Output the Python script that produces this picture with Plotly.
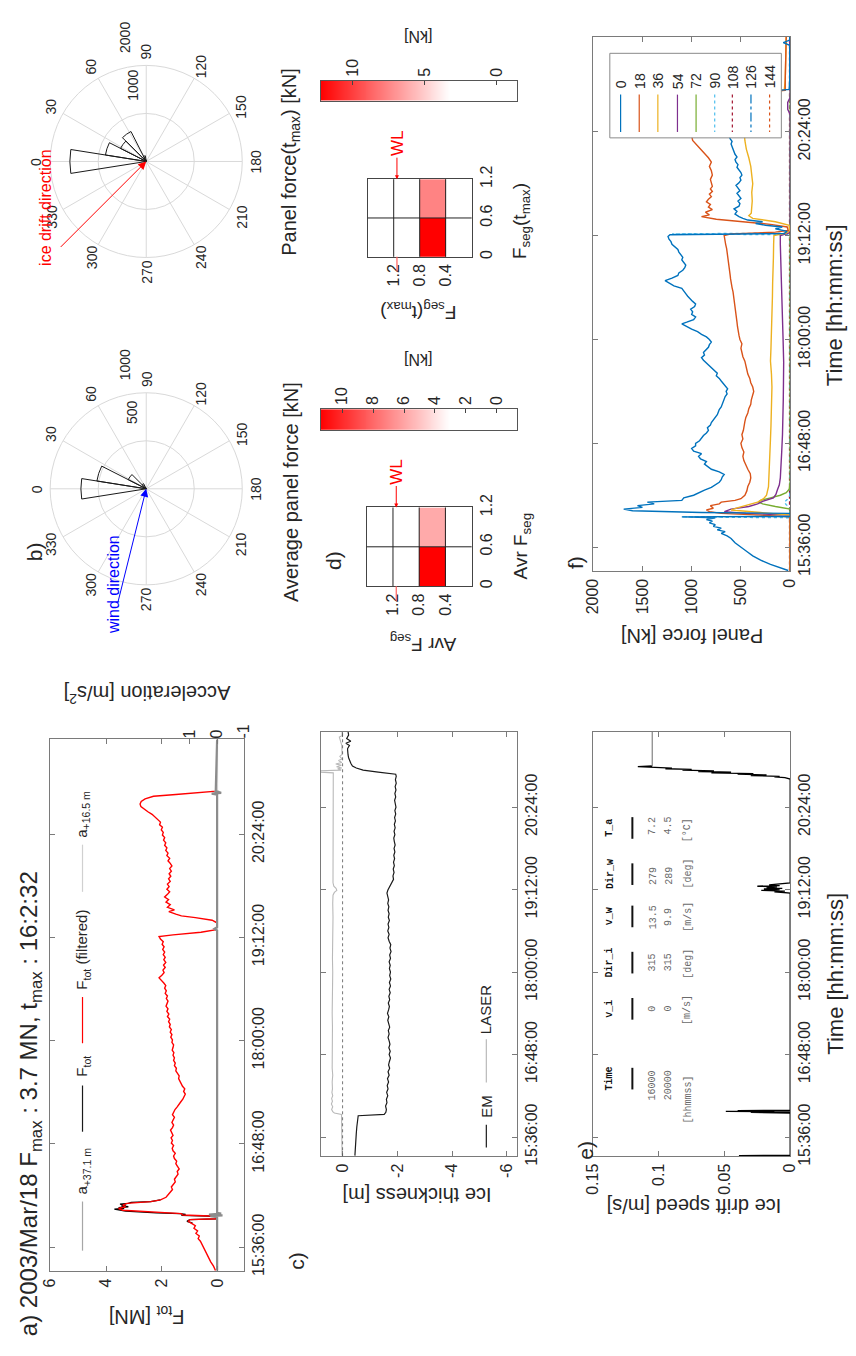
import math
import plotly.graph_objects as go

W, H = 856, 1356
FONT = "Liberation Sans, Arial, sans-serif"
MONO = "Liberation Mono, Courier New, monospace"
AXC = "#7a7a7a"
TXT = "#262626"
GRID = "#d9d9d9"

# ---------------- shared time axis (decimal hours) ----------------
TIME_TICKS = [15.6, 16.8, 18.0, 19.2, 20.4]
TIME_LABELS = ["15:36:00", "16:48:00", "18:00:00", "19:12:00", "20:24:00"]
TIME_RANGE = [15.32, 21.5]

# ---------------- a) total force [MN] and accelerations [m/s2] ----------------
DATE_STR = "2003/Mar/18"
TMAX_STR = "16:2:32"
FTOT_FILTERED = [
    (15.33, 0.08), (15.38, 0.15), (15.43, 0.25), (15.48, 0.33), (15.53, 0.40), (15.58, 0.47),
    (15.63, 0.55), (15.67, 0.62), (15.70, 0.70), (15.73, 0.66), (15.76, 0.78), (15.79, 0.72),
    (15.82, 0.85), (15.85, 0.80), (15.88, 0.95), (15.90, 1.05), (15.92, 1.00), (15.93, 0.05),
    (15.96, 0.05), (15.975, 1.25), (15.99, 1.30), (16.01, 2.60), (16.03, 3.40), (16.05, 3.55),
    (16.07, 3.30), (16.09, 3.40), (16.11, 3.25), (16.13, 2.40), (16.15, 2.05), (16.18, 1.85),
    (16.21, 1.78), (16.24, 1.70), (16.27, 1.62), (16.30, 1.66), (16.33, 1.58), (16.36, 1.52),
    (16.39, 1.55), (16.42, 1.47), (16.45, 1.42), (16.48, 1.45), (16.51, 1.38), (16.54, 1.44),
    (16.57, 1.50), (16.60, 1.47), (16.63, 1.55), (16.66, 1.58), (16.69, 1.52), (16.72, 1.60),
    (16.75, 1.63), (16.78, 1.58), (16.81, 1.66), (16.84, 1.62), (16.87, 1.67), (16.90, 1.60),
    (16.93, 1.64), (16.96, 1.69), (16.99, 1.62), (17.02, 1.58), (17.05, 1.64), (17.08, 1.60),
    (17.11, 1.55), (17.14, 1.62), (17.17, 1.58), (17.20, 1.53), (17.23, 1.45), (17.26, 1.40),
    (17.29, 1.32), (17.32, 1.25), (17.35, 1.20), (17.38, 1.16), (17.41, 1.22), (17.44, 1.18),
    (17.47, 1.26), (17.50, 1.30), (17.53, 1.36), (17.56, 1.40), (17.59, 1.38), (17.62, 1.45),
    (17.65, 1.50), (17.68, 1.48), (17.71, 1.55), (17.74, 1.52), (17.77, 1.58), (17.80, 1.55),
    (17.83, 1.60), (17.86, 1.57), (17.89, 1.63), (17.92, 1.60), (17.95, 1.58), (17.98, 1.64),
    (18.01, 1.62), (18.04, 1.68), (18.07, 1.64), (18.10, 1.70), (18.13, 1.66), (18.16, 1.73),
    (18.19, 1.70), (18.22, 1.76), (18.25, 1.72), (18.28, 1.80), (18.31, 1.75), (18.34, 1.82),
    (18.37, 1.78), (18.40, 1.85), (18.43, 1.80), (18.46, 1.78), (18.49, 1.84), (18.52, 1.80),
    (18.55, 1.88), (18.58, 1.84), (18.61, 1.90), (18.64, 1.86), (18.67, 1.93), (18.70, 2.02),
    (18.73, 2.10), (18.76, 2.00), (18.79, 1.92), (18.82, 1.96), (18.85, 1.88), (18.88, 1.94),
    (18.91, 1.86), (18.94, 1.93), (18.97, 1.88), (19.00, 1.95), (19.03, 1.90), (19.06, 1.97),
    (19.09, 1.92), (19.12, 1.99), (19.15, 1.95), (19.18, 2.05), (19.21, 2.10), (19.23, 1.60),
    (19.26, 0.60), (19.29, 0.05), (19.33, 0.02), (19.37, 0.03), (19.40, 0.20), (19.43, 0.80),
    (19.45, 1.30), (19.47, 1.50), (19.50, 1.75), (19.52, 1.55), (19.55, 1.80), (19.58, 1.70),
    (19.61, 1.85), (19.64, 1.76), (19.67, 1.90), (19.70, 1.80), (19.73, 1.72), (19.76, 1.82),
    (19.79, 1.74), (19.82, 1.80), (19.85, 1.70), (19.88, 1.76), (19.91, 1.68), (19.94, 1.74),
    (19.97, 1.66), (20.00, 1.72), (20.03, 1.64), (20.06, 1.70), (20.09, 1.78), (20.12, 1.72),
    (20.15, 1.82), (20.18, 1.78), (20.21, 1.86), (20.24, 1.82), (20.27, 1.90), (20.30, 1.86),
    (20.33, 1.94), (20.36, 1.90), (20.39, 1.98), (20.42, 1.95), (20.45, 2.02), (20.48, 1.98),
    (20.51, 2.08), (20.54, 2.05), (20.57, 2.15), (20.60, 2.22), (20.63, 2.35), (20.66, 2.50),
    (20.69, 2.65), (20.72, 2.75), (20.75, 2.78), (20.78, 2.74), (20.81, 2.60), (20.84, 2.30),
    (20.86, 1.50), (20.88, 0.60), (20.90, 0.05), (21.00, 0.02), (21.20, 0.02), (21.50, 0.02),
]
FTOT_RAW = [
    (15.88, 0.90), (15.90, 1.10), (15.92, 1.00), (15.93, 0.05), (15.96, 0.05), (15.97, 1.30),
    (15.98, 1.15), (15.99, 1.35), (16.00, 2.20), (16.01, 2.90), (16.02, 3.30), (16.03, 3.50),
    (16.042, 3.70), (16.05, 3.35), (16.06, 3.55), (16.07, 3.20), (16.08, 3.45), (16.09, 3.30),
    (16.10, 3.50), (16.11, 3.20), (16.12, 3.10), (16.13, 2.40), (16.15, 2.05),
]
ACC_37 = [
    (15.33, 0.0), (15.95, 0.0), (15.96, 0.25), (15.97, -0.20), (15.98, 0.30), (15.99, -0.15),
    (16.00, 0.0), (19.28, 0.0), (19.30, 0.10), (19.32, 0.0), (20.86, 0.0), (20.87, 0.20),
    (20.88, -0.15), (20.90, 0.05), (21.50, 0.0),
]
ACC_16 = [
    (15.33, 0.0), (15.96, 0.0), (15.97, 0.15), (15.98, -0.10), (15.99, 0.0), (20.87, 0.0),
    (20.88, 0.12), (20.89, -0.08), (20.90, 0.0), (21.50, 0.0),
]

# ---------------- c) ice thickness [m] ----------------
ICE_EM = [
    (15.33, -0.45), (15.45, -0.46), (15.55, -0.48), (15.65, -0.50), (15.75, -0.52), (15.85, -0.54),
    (15.91, -0.57), (15.93, -1.52), (15.96, -1.58), (16.00, -1.60), (16.05, -1.57), (16.10, -1.62),
    (16.15, -1.60), (16.20, -1.65), (16.25, -1.61), (16.30, -1.66), (16.35, -1.63), (16.40, -1.68),
    (16.45, -1.64), (16.50, -1.70), (16.55, -1.66), (16.60, -1.72), (16.65, -1.68), (16.70, -1.71),
    (16.75, -1.75), (16.80, -1.70), (16.85, -1.74), (16.90, -1.69), (16.95, -1.73), (17.00, -1.70),
    (17.05, -1.66), (17.10, -1.70), (17.15, -1.67), (17.20, -1.72), (17.25, -1.68), (17.30, -1.65),
    (17.35, -1.69), (17.40, -1.64), (17.45, -1.68), (17.50, -1.71), (17.55, -1.67), (17.60, -1.72),
    (17.65, -1.69), (17.70, -1.74), (17.75, -1.70), (17.80, -1.75), (17.85, -1.71), (17.90, -1.76),
    (17.95, -1.72), (18.00, -1.75), (18.05, -1.71), (18.10, -1.74), (18.15, -1.70), (18.20, -1.75),
    (18.25, -1.72), (18.30, -1.77), (18.35, -1.73), (18.40, -1.76), (18.45, -1.70), (18.50, -1.66),
    (18.55, -1.70), (18.60, -1.65), (18.65, -1.69), (18.70, -1.66), (18.75, -1.71), (18.80, -1.67),
    (18.85, -1.70), (18.90, -1.66), (18.95, -1.69), (19.00, -1.65), (19.05, -1.68), (19.10, -1.64),
    (19.15, -1.62), (19.20, -1.66), (19.25, -1.72), (19.30, -1.80), (19.35, -1.86), (19.40, -1.84),
    (19.45, -1.88), (19.50, -1.85), (19.55, -1.89), (19.60, -1.86), (19.65, -1.90), (19.70, -1.87),
    (19.75, -1.91), (19.80, -1.88), (19.85, -1.92), (19.90, -1.89), (19.95, -1.87), (20.00, -1.91),
    (20.05, -1.88), (20.10, -1.92), (20.15, -1.89), (20.20, -1.93), (20.25, -1.90), (20.30, -1.94),
    (20.35, -1.91), (20.40, -1.95), (20.45, -1.92), (20.50, -1.90), (20.55, -1.94), (20.60, -1.91),
    (20.65, -1.95), (20.70, -1.92), (20.75, -1.96), (20.80, -1.93), (20.85, -1.96), (20.88, -1.94),
    (20.91, -1.30), (20.94, -0.75), (20.97, -0.50), (21.00, -0.36), (21.04, -0.30), (21.08, -0.25),
    (21.12, -0.22), (21.16, -0.20), (21.20, -0.19), (21.25, -0.18), (21.30, -0.25), (21.33, -0.12),
    (21.36, -0.30), (21.40, -0.15), (21.45, -0.22), (21.50, -0.20),
]
ICE_LASER = [
    (15.33, 0.02), (15.60, 0.03), (15.90, 0.02), (15.93, 0.04), (15.95, 0.30), (15.97, 0.36),
    (16.00, 0.40), (16.04, 0.36), (16.08, 0.41), (16.12, 0.37), (16.16, 0.40), (16.20, 0.36),
    (16.25, 0.39), (16.30, 0.37), (16.40, 0.38), (16.50, 0.36), (16.60, 0.38), (16.80, 0.37),
    (17.00, 0.38), (17.20, 0.37), (17.40, 0.38), (17.60, 0.37), (17.80, 0.37), (18.00, 0.36),
    (18.20, 0.37), (18.40, 0.36), (18.60, 0.36), (18.80, 0.35), (19.00, 0.36), (19.12, 0.35),
    (19.16, 0.30), (19.19, 0.21), (19.22, 0.24), (19.25, 0.32), (19.30, 0.35), (19.50, 0.35),
    (19.80, 0.34), (20.10, 0.35), (20.40, 0.34), (20.70, 0.35), (20.90, 0.34), (20.91, 0.80),
    (20.93, 0.80), (20.94, 0.05), (20.96, 0.18), (20.97, 0.03), (20.99, 0.22), (21.01, 0.04),
    (21.03, 0.25), (21.05, 0.03), (21.08, 0.15), (21.10, 0.02), (21.14, 0.10), (21.17, 0.02),
    (21.30, 0.03), (21.42, 0.12), (21.44, 0.02), (21.50, 0.02),
]

# ---------------- e) ice drift speed [m/s] ----------------
DRIFT = [
    (15.33, 0.039), (15.335, 0.0), (15.95, 0.0), (15.96, 0.030), (15.965, 0.0), (15.975, 0.049),
    (15.98, 0.012), (15.985, 0.040), (15.99, 0.0), (19.15, 0.0), (19.17, 0.012), (19.18, 0.004),
    (19.19, 0.022), (19.20, 0.008), (19.21, 0.020), (19.22, 0.006), (19.23, 0.018), (19.24, 0.010),
    (19.25, 0.025), (19.26, 0.008), (19.27, 0.016), (19.29, 0.004), (19.30, 0.0), (20.81, 0.0),
    (20.83, 0.004), (20.84, 0.012), (20.85, 0.008), (20.86, 0.030), (20.87, 0.018), (20.88, 0.040),
    (20.89, 0.028), (20.90, 0.060), (20.91, 0.045), (20.92, 0.070), (20.93, 0.058), (20.94, 0.082),
    (20.95, 0.075), (20.96, 0.095), (20.97, 0.090), (20.99, 0.116), (21.00, 0.105),
]
DRIFT_HOLD = [(21.00, 0.105), (21.50, 0.105)]

TABLE_HEAD = ["Time", "v_i", "Dir_i", "v_w", "Dir_w", "T_a"]
TABLE_ROW1 = ["16000", "0", "315", "13.5", "279", "7.2"]
TABLE_ROW2 = ["20000", "0", "315", "9.9", "289", "4.5"]
TABLE_UNIT = ["[hhmmss]", "[m/s]", "[deg]", "[m/s]", "[deg]", "[°C]"]

# ---------------- f) panel forces [kN], one series per panel angle ----------------
PANEL_ANGLES = ["0", "18", "36", "54", "72", "90", "108", "126", "144"]
P0 = [
    (15.33, 20), (15.36, 100), (15.40, 200), (15.45, 300), (15.50, 380), (15.55, 440), (15.60, 500),
    (15.65, 560), (15.70, 600), (15.73, 640), (15.76, 700), (15.78, 660), (15.80, 740), (15.82, 700),
    (15.84, 780), (15.86, 760), (15.88, 820), (15.90, 790), (15.92, 850), (15.94, 760), (15.95, 1100),
    (15.955, 0), (15.99, 0), (16.00, 900), (16.02, 1600), (16.04, 1690), (16.06, 1500), (16.08, 1550),
    (16.10, 1380), (16.12, 1450), (16.14, 1100), (16.17, 1080), (16.20, 980), (16.23, 930),
    (16.26, 870), (16.29, 800), (16.32, 760), (16.35, 720), (16.38, 700), (16.41, 690), (16.44, 670),
    (16.47, 720), (16.50, 800), (16.53, 830), (16.56, 870), (16.59, 850), (16.62, 910), (16.65, 930),
    (16.68, 900), (16.71, 980), (16.74, 1000), (16.77, 960), (16.80, 960), (16.83, 920), (16.86, 900),
    (16.89, 880), (16.92, 850), (16.95, 830), (16.98, 840), (17.01, 810), (17.04, 800), (17.07, 780),
    (17.10, 760), (17.13, 740), (17.16, 730), (17.19, 720), (17.22, 700), (17.25, 690), (17.28, 680),
    (17.31, 670), (17.34, 660), (17.37, 640), (17.40, 650), (17.43, 635), (17.46, 660), (17.49, 680),
    (17.52, 700), (17.55, 720), (17.58, 750), (17.61, 740), (17.64, 770), (17.67, 800), (17.70, 820),
    (17.73, 850), (17.76, 880), (17.79, 900), (17.82, 870), (17.85, 880), (17.88, 850), (17.91, 830),
    (17.94, 820), (17.97, 800), (18.00, 820), (18.03, 850), (18.06, 900), (18.09, 940), (18.12, 1000),
    (18.15, 1050), (18.18, 1100), (18.20, 1050), (18.23, 980), (18.26, 960), (18.29, 1000),
    (18.32, 990), (18.35, 1010), (18.38, 970), (18.41, 960), (18.44, 990), (18.47, 1020),
    (18.50, 1040), (18.53, 1060), (18.56, 1080), (18.59, 1100), (18.62, 1180), (18.65, 1230),
    (18.68, 1270), (18.71, 1200), (18.74, 1140), (18.77, 1130), (18.80, 1090), (18.83, 1070),
    (18.86, 1060), (18.89, 1080), (18.92, 1100), (18.95, 1090), (18.98, 1110), (19.01, 1130),
    (19.04, 1140), (19.07, 1170), (19.10, 1200), (19.13, 1210), (19.16, 1230), (19.19, 1240),
    (19.21, 1220), (19.225, 60), (19.25, 30), (19.28, 150), (19.30, 80), (19.32, 250), (19.34, 350),
    (19.36, 280), (19.38, 430), (19.40, 480), (19.42, 520), (19.45, 560), (19.48, 540), (19.51, 570),
    (19.54, 520), (19.57, 510), (19.60, 530), (19.63, 500), (19.66, 520), (19.69, 540), (19.72, 510),
    (19.75, 530), (19.78, 550), (19.81, 520), (19.84, 500), (19.87, 510), (19.90, 490), (19.93, 500),
    (19.96, 520), (19.99, 540), (20.02, 530), (20.05, 550), (20.08, 560), (20.11, 540), (20.14, 560),
    (20.17, 570), (20.20, 580), (20.23, 590), (20.26, 600), (20.29, 590), (20.32, 610), (20.35, 620),
    (20.40, 630), (20.50, 650), (20.60, 680), (20.70, 720), (20.80, 700), (20.84, 650), (20.87, 200),
    (20.89, 10), (21.00, 5), (21.40, 5), (21.43, 70), (21.46, 5), (21.50, 5),
]
P18 = [
    (15.33, 0), (15.95, 0), (15.97, 300), (15.99, 700), (16.01, 820), (16.03, 850), (16.05, 780),
    (16.08, 810), (16.10, 720), (16.12, 700), (16.14, 560), (16.16, 500), (16.20, 460), (16.25, 440),
    (16.30, 430), (16.35, 410), (16.40, 400), (16.45, 405), (16.50, 430), (16.55, 450), (16.60, 470),
    (16.65, 480), (16.70, 470), (16.75, 490), (16.80, 500), (16.85, 480), (16.90, 490), (16.95, 475),
    (17.00, 470), (17.05, 460), (17.10, 450), (17.15, 430), (17.20, 420), (17.25, 400), (17.30, 395),
    (17.35, 380), (17.40, 370), (17.45, 380), (17.50, 400), (17.55, 410), (17.60, 430), (17.65, 440),
    (17.70, 450), (17.75, 460), (17.80, 480), (17.85, 490), (17.90, 500), (17.95, 490), (18.00, 510),
    (18.05, 520), (18.10, 530), (18.15, 535), (18.20, 540), (18.25, 545), (18.30, 550), (18.35, 555),
    (18.40, 560), (18.45, 565), (18.50, 570), (18.55, 580), (18.60, 590), (18.65, 600), (18.70, 605),
    (18.75, 610), (18.80, 615), (18.85, 620), (18.90, 625), (18.95, 635), (19.00, 640), (19.05, 645),
    (19.10, 655), (19.15, 660), (19.20, 670), (19.22, 600), (19.24, 150), (19.26, 20), (19.30, 30),
    (19.33, 200), (19.36, 500), (19.39, 750), (19.42, 900), (19.44, 820), (19.47, 860), (19.50, 790),
    (19.53, 830), (19.56, 810), (19.59, 850), (19.62, 830), (19.65, 800), (19.68, 820), (19.71, 790),
    (19.74, 810), (19.77, 790), (19.80, 800), (19.85, 810), (19.90, 790), (19.95, 800), (20.00, 820),
    (20.05, 800), (20.10, 830), (20.15, 870), (20.20, 910), (20.25, 960), (20.30, 990), (20.35, 1000),
    (20.45, 1020), (20.60, 1050), (20.75, 1060), (20.83, 1000), (20.86, 300), (20.88, 50),
    (21.00, 50), (21.50, 40),
]
P36 = [
    (15.33, 0), (15.97, 0), (16.00, 300), (16.03, 600), (16.06, 520), (16.09, 420), (16.12, 330),
    (16.16, 270), (16.20, 240), (16.30, 220), (16.40, 215), (16.55, 210), (16.70, 205), (16.85, 200),
    (17.00, 195), (17.15, 192), (17.30, 188), (17.45, 185), (17.60, 190), (17.75, 200), (17.90, 195),
    (18.05, 190), (18.20, 188), (18.35, 185), (18.50, 180), (18.65, 178), (18.80, 172), (18.95, 170),
    (19.10, 168), (19.20, 165), (19.23, 40), (19.26, 5), (19.32, 10), (19.36, 150), (19.40, 380),
    (19.43, 420), (19.46, 395), (19.50, 390), (19.60, 385), (19.70, 390), (19.80, 380), (19.90, 390),
    (20.00, 400), (20.10, 420), (20.20, 445), (20.30, 460), (20.45, 470), (20.60, 480), (20.80, 470),
    (20.85, 200), (20.88, 60), (21.00, 50), (21.50, 40),
]
P54 = [
    (15.33, 0), (15.97, 0), (15.99, 450), (16.01, 668), (16.04, 600), (16.07, 420), (16.10, 330),
    (16.13, 280), (16.17, 170), (16.21, 145), (16.26, 130), (16.32, 110), (16.40, 100), (16.55, 90),
    (16.70, 86), (16.90, 78), (17.10, 72), (17.30, 70), (17.50, 68), (17.74, 66), (18.00, 72),
    (18.34, 83), (18.70, 90), (19.10, 100), (19.20, 100), (19.23, 10), (19.26, 0), (20.60, 0),
    (20.66, 25), (20.74, 25), (20.80, 0), (21.50, 5),
]
P72 = [
    (15.33, 0), (16.04, 0), (16.07, 150), (16.10, 280), (16.12, 320), (16.14, 300), (16.17, 200),
    (16.20, 100), (16.23, 40), (16.27, 10), (16.35, 0), (21.50, 0),
]
P90 = [
    (15.33, 0), (15.94, 0), (15.95, 1100), (15.955, 0), (16.06, 0), (16.09, 40), (16.12, 60),
    (16.15, 30), (16.20, 0), (19.21, 0), (19.22, 1200), (19.23, 0), (21.50, 0),
]
P108 = [(15.33, 6), (21.50, 6)]
P126 = [(15.33, 2), (21.50, 2)]
P144 = [(15.33, 4), (21.50, 4)]

# ---------------- b) rose diagrams (panel angle, force in kN) ----------------
ROSE_ANGLES = [0, 18, 36, 54, 72, 90, 108, 126, 144]
ROSE_AVG = [680, 520, 210, 60, 10, 0, 0, 0, 0]
ROSE_TMAX = [1590, 860, 600, 700, 120, 30, 0, 0, 0]

# ---------------- d) segment forces [kN] (rows: width bins, columns: height bins) ----------------
SEG_HEIGHT = [1.4, 1.0, 0.6, 0.2]
SEG_WIDTH = [0.3, 0.9]
SEG_HEIGHT_EDGES = [1.2, 0.8, 0.4]
SEG_WIDTH_EDGES = [0.6]
AVR_FSEG = [[0.0, 0.1, 11.4, 0.2], [-1.3, 0.0, 5.8, 0.1]]
TMAX_FSEG = [[0.0, 0.2, 12.2, 0.3], [-1.4, 0.1, 7.6, 0.0]]
WATER_LEVEL = 1.15

SERIES_STYLE = [
    ("#0072BD", "solid"), ("#D95319", "solid"), ("#EDB120", "solid"), ("#7E2F8E", "solid"),
    ("#77AC30", "solid"), ("#4DBEEE", "dot"), ("#A2142F", "dot"), ("#0072BD", "dashdot"),
    ("#D95319", "dot"),
]
PANEL_SERIES = [P0, P18, P36, P54, P72, P90, P108, P126, P144]
SEG_SCALE = [[0.0, "#ffffff"], [0.34, "#ffffff"], [1.0, "#ff0000"]]


def px(x):
    return x / W


def py(y):
    return 1 - y / H


def cols(pairs):
    t, v = zip(*pairs)
    return list(t), list(v)


ann = []
shp = []


def label(x, y, s, angle=-90, size=16, color=TXT, xa="center", ya="middle", family=FONT):
    ann.append(dict(xref="paper", yref="paper", x=px(x), y=py(y), text=s, textangle=angle,
                    showarrow=False, xanchor=xa, yanchor=ya,
                    font=dict(family=family, size=size, color=color)))


def pline(x0, y0, x1, y1, color, width=1.2, dash="solid"):
    shp.append(dict(type="line", xref="paper", yref="paper", x0=px(x0), y0=py(y0),
                    x1=px(x1), y1=py(y1), line=dict(color=color, width=width, dash=dash)))


def time_axis(y0, y1, anchor):
    return dict(domain=[py(y1), py(y0)], anchor=anchor, range=TIME_RANGE,
                tickmode="array", tickvals=TIME_TICKS, ticktext=TIME_LABELS,
                side="right", tickangle=-90, ticks="inside", ticklen=5, tickcolor=AXC,
                showline=True, linecolor=AXC, mirror="ticks", showgrid=False, zeroline=False,
                tickfont=dict(family=FONT, size=16, color=TXT))


def value_axis(x0, x1, anchor, rng, vals, text):
    return dict(domain=[px(x0), px(x1)], anchor=anchor, range=rng,
                tickmode="array", tickvals=vals, ticktext=text,
                side="bottom", tickangle=-90, ticks="inside", ticklen=5, tickcolor=AXC,
                showline=True, linecolor=AXC, mirror="ticks", showgrid=False, zeroline=False,
                tickfont=dict(family=FONT, size=16, color=TXT))


fig = go.Figure()

# ---- a) accelerations (secondary axis) and total force
for pairs, color, width in [(ACC_16, "#cfcfcf", 2.0), (ACC_37, "#8c8c8c", 2.2)]:
    t, v = cols(pairs)
    fig.add_trace(go.Scatter(x=v, y=t, mode="lines", line=dict(color=color, width=width),
                             xaxis="x2", yaxis="y", showlegend=False))
t, v = cols(FTOT_RAW)
fig.add_trace(go.Scatter(x=v, y=t, mode="lines", line=dict(color="black", width=1.3),
                         xaxis="x", yaxis="y", showlegend=False))
t, v = cols(FTOT_FILTERED)
fig.add_trace(go.Scatter(x=v, y=t, mode="lines", line=dict(color="#ff0000", width=1.4),
                         xaxis="x", yaxis="y", showlegend=False))

# ---- c) ice thickness
t, v = cols(ICE_LASER)
fig.add_trace(go.Scatter(x=v, y=t, mode="lines", line=dict(color="#b9b9b9", width=1.1),
                         xaxis="x3", yaxis="y3", showlegend=False))
t, v = cols(ICE_EM)
fig.add_trace(go.Scatter(x=v, y=t, mode="lines", line=dict(color="#1a1a1a", width=1.2),
                         xaxis="x3", yaxis="y3", showlegend=False))
shp.append(dict(type="line", xref="x3", yref="y3 domain", x0=0, x1=0, y0=0, y1=1,
                line=dict(color="#555555", width=0.8, dash="3px,3px")))

# ---- e) ice drift speed
t, v = cols(DRIFT)
fig.add_trace(go.Scatter(x=v, y=t, mode="lines", line=dict(color="black", width=1.3),
                         xaxis="x4", yaxis="y4", showlegend=False))
t, v = cols(DRIFT_HOLD)
fig.add_trace(go.Scatter(x=v, y=t, mode="lines", line=dict(color="#8c8c8c", width=1.3),
                         xaxis="x4", yaxis="y4", showlegend=False))

# ---- f) panel forces
for pairs, (color, dash) in reversed(list(zip(PANEL_SERIES, SERIES_STYLE))):
    t, v = cols(pairs)
    fig.add_trace(go.Scatter(x=v, y=t, mode="lines", line=dict(color=color, width=1.4, dash=dash),
                             xaxis="x5", yaxis="y5", showlegend=False))

# ---- d) segment force maps with their colour strips
for z, xa, ya, cxa, cya in [(AVR_FSEG, "x6", "y6", "x8", "y8"), (TMAX_FSEG, "x7", "y7", "x9", "y9")]:
    zmin = min(min(r) for r in z)
    zmax = max(max(r) for r in z)
    fig.add_trace(go.Heatmap(x=SEG_HEIGHT, y=SEG_WIDTH, z=z, colorscale=SEG_SCALE, zmin=zmin,
                             zmax=zmax, showscale=False, xaxis=xa, yaxis=ya))
    ramp = [zmin + (zmax - zmin) * i / 199 for i in range(200)]
    fig.add_trace(go.Heatmap(x=ramp, y=[0.5], z=[ramp], colorscale=SEG_SCALE, zmin=zmin,
                             zmax=zmax, showscale=False, xaxis=cxa, yaxis=cya))
    for e in SEG_HEIGHT_EDGES:
        shp.append(dict(type="line", xref=xa, yref=ya + " domain", x0=e, x1=e, y0=0, y1=1,
                        line=dict(color="#222222", width=1)))
    for e in SEG_WIDTH_EDGES:
        shp.append(dict(type="line", xref=xa + " domain", yref=ya, x0=0, x1=1, y0=e, y1=e,
                        line=dict(color="#222222", width=1)))
    # water level marker: arrow above the map and a short tick below it
    ann.append(dict(xref=xa, yref=ya, x=WATER_LEVEL, y=1.2, text="WL", textangle=-90,
                    showarrow=True, arrowhead=2, arrowsize=0.8, arrowwidth=1, arrowcolor="#ff0000",
                    ax=0, ay=-36, font=dict(family=FONT, size=17, color="#ff0000")))
    shp.append(dict(type="line", xref=xa, yref=ya + " domain", x0=WATER_LEVEL, x1=WATER_LEVEL,
                    y0=0, y1=-0.19, line=dict(color="#ff6060", width=1.2)))

# ---- b) rose diagrams
POLAR_C = {"polar": (140, 150), "polar2": (140, 483)}
POLAR_R = 98
for name, rose in [("polar", ROSE_TMAX), ("polar2", ROSE_AVG)]:
    fig.add_trace(go.Barpolar(r=rose, theta=ROSE_ANGLES, width=18, subplot=name,
                              marker=dict(color="rgba(255,255,255,0)",
                                          line=dict(color="#1a1a1a", width=1)),
                              showlegend=False))


def polar_layout(cy, rmax, rticks):
    return dict(
        domain=dict(x=[px(140 - POLAR_R), px(140 + POLAR_R)], y=[py(cy + POLAR_R), py(cy - POLAR_R)]),
        bgcolor="white",
        angularaxis=dict(rotation=180, direction="clockwise", tickmode="linear", tick0=0, dtick=30,
                         showgrid=True, gridcolor=GRID, gridwidth=1, showline=True, linecolor=GRID,
                         showticklabels=False, ticks=""),
        radialaxis=dict(range=[0, rmax], tickmode="array", tickvals=rticks, showgrid=True,
                        gridcolor=GRID, showline=False, showticklabels=False, ticks=""),
    )


POLAR_TICKS = {"polar": [1000, 2000], "polar2": [500, 1000]}
for name in ("polar", "polar2"):
    cx, cy = POLAR_C[name]
    for a in range(0, 360, 30):
        th = math.radians(a)
        label(cx - 112 * math.cos(th), cy - 112 * math.sin(th), str(a), size=14)
    rmax = POLAR_TICKS[name][-1]
    th = math.radians(80)
    for r in POLAR_TICKS[name]:
        d = r / rmax * POLAR_R + 30
        label(cx - d * math.cos(th), cy - d * math.sin(th), str(r), size=14)

# direction arrows (mean of the two table rows)
wind_dir = (float(TABLE_ROW1[4]) + float(TABLE_ROW2[4])) / 2
ice_dir = (float(TABLE_ROW1[2]) + float(TABLE_ROW2[2])) / 2
for name, ang, length, color in [("polar2", wind_dir, 118, "#0000ff"), ("polar", ice_dir, 123, "#ff0000")]:
    cx, cy = POLAR_C[name]
    th = math.radians(ang)
    ann.append(dict(xref="paper", yref="paper", x=px(cx), y=py(cy), text="",
                    showarrow=True, arrowhead=2, arrowsize=1.6, arrowwidth=1, arrowcolor=color,
                    axref="pixel", ayref="pixel", ax=-length * math.cos(th), ay=-length * math.sin(th)))
label(106, 580, "wind direction", size=16, color="#0000ff")
label(37, 197, "ice drift direction", size=16, color="#ff0000")
label(287, 150, "Panel force(t<sub>max</sub>) [kN]", size=20)
label(287, 486, "Average panel force [kN]", size=20)

# ---- titles, axis labels and panel letters
fmax = max(v for _, v in FTOT_RAW)
label(22, 1347, f"a) {DATE_STR} F<sub>max</sub> : {fmax:.1f} MN, t<sub>max</sub> : {TMAX_STR}",
      size=24, ya="bottom")
label(140, 1324, "F<sub>tot</sub> [MN]", angle=180, size=20)
label(141, 693, "Acceleration [m/s<sup>2</sup>]", angle=180, size=20)
label(416, 1202, "Ice thickness [m]", angle=180, size=20)
label(699, 1212, "Ice drift speed [m/s]", angle=180, size=20)
label(697, 632, "Panel force [kN]", angle=180, size=20)
label(843, 976, "Time [hh:mm:ss]", size=22)
label(843, 296, "Time [hh:mm:ss]", size=22)
label(26, 547, "b)", size=21)
label(293, 1268, "c)", size=21)
label(331, 556, "d)", size=21)
label(588, 1156, "e)", size=21)
label(578, 558, "f)", size=21)

# d) map labels
label(422, 640, "Avr F<sub>seg</sub>", angle=180, size=19)
label(523, 541, "Avr F<sub>seg</sub>", size=19)
label(418, 302, "F<sub>seg</sub>(t<sub>max</sub>)", angle=180, size=19)
label(523, 211, "F<sub>seg</sub>(t<sub>max</sub>)", size=19)
label(418, 352, "[kN]", angle=180, size=16)
label(418, 23, "[kN]", angle=180, size=16)

# ---- legend of a)
label(75, 1203, "a<sub>+37.1 m</sub>", size=15, ya="bottom")
pline(75, 1208, 75, 1258, "#a6a6a6")
label(75, 1083, "F<sub>tot</sub>", size=15, ya="bottom")
pline(75, 1090, 75, 1137, "#1a1a1a")
label(75, 995, "F<sub>tot</sub> (filtered)", size=15, ya="bottom")
pline(75, 1000, 75, 1047, "#ff0000")
label(75, 840, "a<sub>+16.5 m</sub>", size=15, ya="bottom")
pline(75, 845, 75, 893, "#d0d0d0")

# ---- legend of c)
pline(487, 1130, 487, 1153, "#1a1a1a")
label(487, 1125, "EM", size=15, ya="bottom")
pline(487, 1043, 487, 1087, "#b9b9b9")
label(487, 1040, "LASER", size=15, ya="bottom")

# ---- table of e)
HEAD_Y = [1083, 1012, 965, 918, 875, 828]
ROW_Y = [1090, 1012, 965, 919, 877, 826]
UNIT_Y = [1104, 1013, 966, 918, 874, 830]
for i in range(len(TABLE_HEAD)):
    label(613, HEAD_Y[i], f"<b>{TABLE_HEAD[i]}</b>", size=10, family=MONO, color="#111111")
    pline(636, HEAD_Y[i] - 11, 636, HEAD_Y[i] + 11, "#111111", width=2)
    label(657, ROW_Y[i], TABLE_ROW1[i], size=10, family=MONO, color="#6a6a6a")
    label(673, ROW_Y[i], TABLE_ROW2[i], size=10, family=MONO, color="#6a6a6a")
    label(693, UNIT_Y[i], TABLE_UNIT[i], size=10, family=MONO, color="#6a6a6a")

# ---- legend of f)
shp.append(dict(type="rect", xref="paper", yref="paper", x0=px(613), x1=px(788), y0=py(126), y1=py(40),
                line=dict(color="#8a8a8a", width=1), fillcolor="white", layer="above"))
LEG_X = [624, 643, 662, 682, 701, 720, 738, 757, 776]
for lx, name, (color, dash) in zip(LEG_X, PANEL_ANGLES, SERIES_STYLE):
    pline(lx, 82, lx, 120, color, width=1.2, dash=dash)
    label(lx, 78, name, size=14, ya="bottom")

layout_axes = dict(
    xaxis=value_axis(42, 240, "y", [6, -0.95], [0, 2, 4, 6], ["0", "2", "4", "6"]),
    yaxis=time_axis(738, 1279, "x"),
    xaxis2=dict(overlaying="x", anchor="y", side="top", range=[6.15, -1], tickmode="array",
                tickvals=[-1, 0, 1], ticktext=["-1", "0", "1"], tickangle=-90, ticks="inside",
                ticklen=5, tickcolor=AXC, showline=False, showgrid=False, zeroline=False,
                tickfont=dict(family=FONT, size=16, color=TXT)),
    xaxis3=value_axis(318, 518, "y3", [0.8, -6.36], [0, -2, -4, -6], ["0", "-2", "-4", "-6"]),
    yaxis3=time_axis(730, 1162, "x3"),
    xaxis4=value_axis(596, 797, "y4", [0.15, 0], [0, 0.05, 0.1, 0.15], ["0", "0.05", "0.1", "0.15"]),
    yaxis4=time_axis(730, 1162, "x4"),
    xaxis5=value_axis(596, 797, "y5", [2000, 0], [0, 500, 1000, 1500, 2000],
                      ["0", "500", "1000", "1500", "2000"]),
    yaxis5=time_axis(23, 567, "x5"),
)

for xa, ya, (x0, x1, y0, y1) in [("xaxis6", "yaxis6", (365, 472, 502, 582)),
                                  ("xaxis7", "yaxis7", (366, 472, 168, 247))]:
    layout_axes[xa] = dict(domain=[px(x0), px(x1)], anchor=ya.replace("axis", ""), range=[1.6, 0],
                           tickmode="array", tickvals=SEG_HEIGHT_EDGES,
                           ticktext=[f"{e:.1f}" for e in SEG_HEIGHT_EDGES],
                           side="bottom", tickangle=-90, ticks="", showline=True, linecolor="#444444",
                           mirror=True, showgrid=False, zeroline=False,
                           tickfont=dict(family=FONT, size=16, color=TXT))
    layout_axes[ya] = dict(domain=[py(y1), py(y0)], anchor=xa.replace("axis", ""), range=[0, 1.2],
                           tickmode="array", tickvals=[0, 0.6, 1.2], ticktext=["0", "0.6", "1.2"],
                           side="right", tickangle=-90, ticks="", showline=True, linecolor="#444444",
                           mirror=True, showgrid=False, zeroline=False,
                           tickfont=dict(family=FONT, size=16, color=TXT))

for xa, ya, z, ticks, (y0, y1) in [("xaxis8", "yaxis8", AVR_FSEG, [0, 2, 4, 6, 8, 10], (402, 423)),
                                    ("xaxis9", "yaxis9", TMAX_FSEG, [0, 5, 10], (68, 88))]:
    zmin = min(min(r) for r in z)
    zmax = max(max(r) for r in z)
    layout_axes[xa] = dict(domain=[px(318), px(518)], anchor=ya.replace("axis", ""), range=[zmax, zmin],
                           tickmode="array", tickvals=ticks, ticktext=[str(t) for t in ticks],
                           side="top", tickangle=-90, ticks="inside", ticklen=4, tickcolor="#444444",
                           showline=True, linecolor="#555555", mirror=True, showgrid=False,
                           zeroline=False, tickfont=dict(family=FONT, size=16, color=TXT))
    layout_axes[ya] = dict(domain=[py(y1), py(y0)], anchor=xa.replace("axis", ""), range=[0, 1],
                           showticklabels=False, ticks="", showline=True, linecolor="#555555",
                           mirror=True, showgrid=False, zeroline=False)

fig.update_layout(
    width=W, height=H, autosize=False,
    margin=dict(l=0, r=0, t=0, b=0, pad=0),
    paper_bgcolor="white", plot_bgcolor="white",
    font=dict(family=FONT, color=TXT),
    showlegend=False,
    polar=polar_layout(150, 2000, POLAR_TICKS["polar"]),
    polar2=polar_layout(483, 1000, POLAR_TICKS["polar2"]),
    annotations=ann,
    shapes=shp,
    **layout_axes,
)

fig.write_html("out.html")
